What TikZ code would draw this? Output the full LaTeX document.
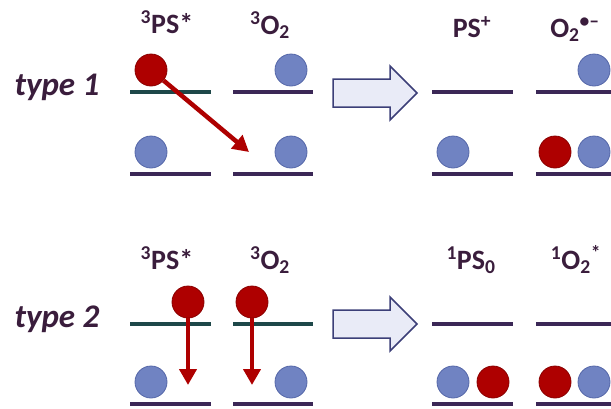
\documentclass[tikz,border=0pt]{standalone}
\usepackage{fontspec}
\setmainfont{Carlito}
\usepackage{tikz}
\usetikzlibrary{arrows.meta, positioning}
\definecolor{inkpurple}{HTML}{3A1D3C}
\definecolor{levelpurple}{HTML}{3B2756}
\definecolor{levelteal}{HTML}{1E4849}
\definecolor{bluefill}{HTML}{7083C2}
\definecolor{bluerim}{HTML}{5567A8}
\definecolor{redfill}{HTML}{AE0000}
\definecolor{redrim}{HTML}{8A0000}
\definecolor{hollowfill}{HTML}{E9EBF7}
\definecolor{hollowrim}{HTML}{3C3F78}
\newcommand{\drawHollowArrow}[1]{\draw[hollow] (#1)+(-84,-14) -- +(-27,-14) -- +(-27,-27) -- +(0,0) -- +(-27,27) -- +(-27,14) -- +(-84,14) -- cycle;}
\tikzset{
    level/.style={line width=4pt, draw=levelpurple},
    tlevel/.style={line width=4pt, draw=levelteal},
    bluedot/.style={circle, draw=bluerim, fill=bluefill, line width=0.8pt, minimum size=32pt, inner sep=0pt},
    reddot/.style={circle, draw=redrim, fill=redfill, line width=0.8pt, minimum size=32pt, inner sep=0pt},
    eflow/.style={draw=redfill, line width=4.5pt, -{Triangle[length=16pt, width=17pt]}},
    hollow/.style={draw=hollowrim, fill=hollowfill, line width=1.5pt, line join=miter},
    statelabel/.style={text=inkpurple, font=\bfseries\fontsize{28}{32}\selectfont, anchor=base, inner sep=0pt},
    typelabel/.style={text=inkpurple, font=\bfseries\itshape\fontsize{33}{38}\selectfont, anchor=base, inner sep=0pt}}
\begin{document}
\begin{tikzpicture}[x=1pt,y=-1pt]
\useasboundingbox (0,0) rectangle (611,408);
% energy levels
\foreach \y/\ps/\ox in {92/tlevel/level,174/level/level,324/tlevel/tlevel,404/level/level} {
    \draw[\ps] (130,\y) -- (211,\y);
    \draw[\ox] (233,\y) -- (313,\y);
    \draw[level] (432,\y) -- (513,\y);
    \draw[level] (536,\y) -- (611,\y);
}
% labels
\node[typelabel] (typeA) at (57,95)  {type 1};
\node[typelabel] (typeB) at (57,327) {type 2};
\node[statelabel] (psA)  at (167,33) {\textsuperscript{3}PS*};
\node[statelabel] (oxA)  at (270,34) {\textsuperscript{3}O\textsubscript{2}};
\node[statelabel] (psA') at (472,37) {PS\textsuperscript{+}};
\node[statelabel] (oxA') at (575,37) {O\textsubscript{2}\textsuperscript{•–}};
\node[statelabel] (psB)  at (167,269) {\textsuperscript{3}PS*};
\node[statelabel] (oxB)  at (270,269) {\textsuperscript{3}O\textsubscript{2}};
\node[statelabel] (psB') at (471,269) {\textsuperscript{1}PS\textsubscript{0}};
\node[statelabel] (oxB') at (576,269) {\textsuperscript{1}O\textsubscript{2}\textsuperscript{*}};
% type 1 electrons
\node[reddot]  (a1) at (151,70)  {};
\node[bluedot] (a2) at (291,70)  {};
\node[bluedot] (a3) at (151,152) {};
\node[bluedot] (a4) at (291,152) {};
\node[bluedot] (a5) at (453,152) {};
\node[bluedot] (a6) at (594,70)  {};
\node[reddot]  (a7) at (555,152) {};
\node[bluedot] (a8) at (594,152) {};
% type 2 electrons
\node[reddot]  (b1) at (188,302) {};
\node[reddot]  (b2) at (252,302) {};
\node[bluedot] (b3) at (151,382) {};
\node[bluedot] (b4) at (291,382) {};
\node[bluedot] (b5) at (453,382) {};
\node[reddot]  (b6) at (493,382) {};
\node[reddot]  (b7) at (555,382) {};
\node[bluedot] (b8) at (594,382) {};
% transfers
\coordinate (ta) at (249,152);
\coordinate (tb1) at (188,385);
\coordinate (tb2) at (252,385);
\draw[eflow] (a1) -- (ta);
\draw[eflow] (b1) -- (tb1);
\draw[eflow] (b2) -- (tb2);
\coordinate (arrA) at (417,93);
\coordinate (arrB) at (417,324);
\drawHollowArrow{arrA}
\drawHollowArrow{arrB}
\end{tikzpicture}
\end{document}
